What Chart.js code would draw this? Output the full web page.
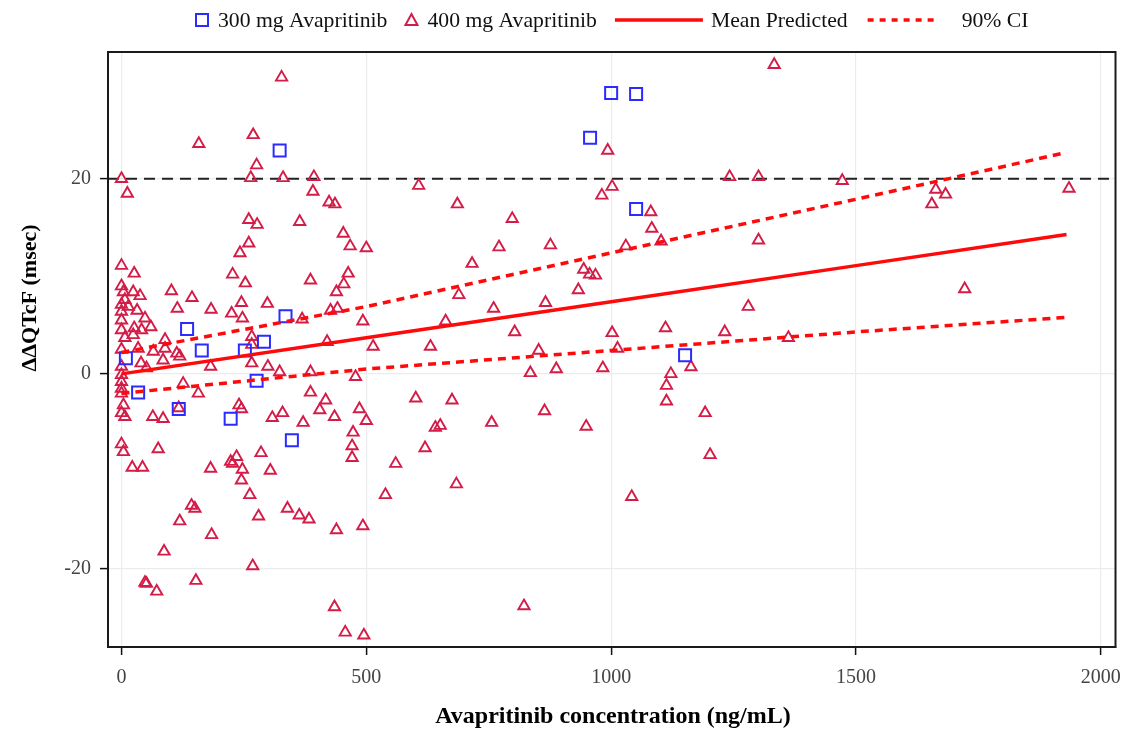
<!DOCTYPE html>
<html><head><meta charset="utf-8">
<script src="https://cdn.jsdelivr.net/npm/chart.js@4/dist/chart.umd.min.js"></script>
<style>html,body{margin:0;padding:0;background:#fff}#wrap{width:1126px;height:731px}</style>
</head><body><div id="wrap"><canvas id="c" width="1126" height="731"></canvas></div>
<script>
// ---------- data ----------
const dose300X = [323, 957, 1000, 1051, 1051, 335, 134, 291, 164, 252, 9, 276, 34, 117, 223, 348, 1151];
const dose300Y = [22.9, 24.2, 28.8, 28.7, 16.9, 5.9, 4.6, 3.3, 2.4, 2.4, 1.6, -0.7, -1.9, -3.6, -4.6, -6.8, 1.9];

const dose400X = [
 327,158,269,276,0,264,330,393,12,391,424,436,260,277,364,453,
 260,467,500,242,0,26,227,463,386,253,454,0,439,102,24,38,144,245,298,114,183,225,247,369,441,427,493,60,89,113,182,266,266,266,420,514,299,323,386,478,126,157,386,417,405,435,486,500,240,245,329,308,371,64,85,
 473,471,471,0,4,75,22,43,182,223,235,227,247,245,285,304,262,143,150,119,184,280,339,363,383,439,493,87,268,48,51,72,152,435,457,495,
 993,607,1002,981,686,1081,1083,798,1102,771,876,1030,716,944,956,968,689,933,760,866,662,803,1002,1111,
 631,1013,852,835,888,983,601,675,641,651,756,864,949,620,560,539,684,1042,822,
 1232,1362,1163,1122,1113,1113,1192,1202,
 1333,1242,1301,1472,1663,1683,1655,1935,1301,1722,1280,
 4,7,0,14,32,0,48,0,26,41,0,24,7,89,65,34,0,119,40,85,51,0,0,0,0,0,4,0,117,7
];
const dose400Y = [
 30.4,23.6,24.5,21.4,20.0,20.1,20.1,20.2,18.5,18.7,17.6,17.4,15.8,15.3,15.6,14.4,
 13.4,13.1,12.9,12.4,11.1,10.3,10.2,10.3,9.6,9.3,9.2,9.0,8.4,8.5,8.4,8.0,7.8,7.3,7.2,6.7,6.6,6.2,5.7,5.6,6.7,6.5,5.4,4.8,3.5,2.1,0.75,1.1,3.8,3.0,3.3,2.8,0.75,0.2,0.2,-0.3,-1.0,-2.0,-1.9,-2.7,-3.7,-4.4,-3.6,-4.8,-3.2,-3.6,-4.0,-4.5,-5.0,-4.4,-4.6,
 -6.0,-7.4,-8.6,-7.2,-8.0,-7.7,-9.6,-9.6,-9.7,-9.0,-8.5,-9.2,-9.8,-10.9,-8.1,-9.9,-12.4,-13.5,-13.8,-15.1,-16.5,-14.6,-13.8,-14.5,-14.9,-16.0,-15.6,-18.2,-19.7,-21.4,-21.5,-22.3,-21.2,-23.9,-26.5,-26.8,
 22.9,19.3,19.2,18.3,17.4,16.6,14.9,15.9,13.6,13.0,13.2,13.1,11.3,10.7,10.2,10.1,8.1,8.6,6.7,7.3,5.4,4.3,4.2,4.7,
 2.8,2.6,2.4,0.1,0.5,0.6,-2.5,-2.7,-5.5,-5.3,-5.0,-3.8,-5.4,-7.6,-9.2,-12.4,-11.3,-12.6,-23.8,
 4.3,3.7,0.7,0.0,-1.2,-2.8,-4.0,-8.3,
 31.7,20.2,20.2,19.8,18.9,18.4,17.4,19.0,13.7,8.7,6.9,
 8.4,7.6,7.1,6.9,6.5,6.4,5.7,5.5,4.7,4.5,4.5,4.0,3.7,2.6,2.3,2.6,2.5,1.8,1.1,1.4,0.6,0.75,-0.1,-0.8,-1.5,-2.0,-3.2,-4.0,-3.5,-4.4
];

const fitX     = [0, 500, 1000, 1500, 1930];
const meanPred = [0.0, 3.7, 7.4, 11.1, 14.3];
const ciUpper  = [2.2, 6.9, 12.4, 17.9, 22.7];
const ciLower  = [-2.0, 0.5, 2.4, 4.3, 5.8];
const refLineY = 20;

const xTicks = [0, 500, 1000, 1500, 2000];
const yTicks = [-20, 0, 20];
const xRange = [-27.5, 2030];
const yRange = [-28, 33];

const legendLabels = ['300 mg Avapritinib', '400 mg Avapritinib', 'Mean Predicted', '90% CI'];
const xTitle = 'Avapritinib concentration (ng/mL)';
const yTitle = 'ΔΔQTcF (msec)';

// ---------- styles ----------
const BLUE = '#2b2bff';
const CRIMSON = '#d41c48';
const RED = '#ff0a0a';
const SERIF = '"Liberation Serif", "Times New Roman", serif';

const pts = (xs, ys) => xs.map((x, i) => ({x, y: ys[i]}));

const frameAndLegend = {
  id: 'frameAndLegend',
  afterDraw(chart) {
    const {ctx, chartArea: a} = chart;
    ctx.save();
    ctx.strokeStyle = '#1a1a1a';
    ctx.lineWidth = 2;
    ctx.strokeRect(a.left, a.top, a.right - a.left, a.bottom - a.top);

    // axis titles
    ctx.fillStyle = '#000';
    ctx.font = 'bold 24px ' + SERIF;
    ctx.textAlign = 'center';
    ctx.textBaseline = 'middle';
    ctx.fillText(xTitle, 613, 717);
    ctx.save();
    ctx.translate(30, 298);
    ctx.rotate(-Math.PI / 2);
    ctx.font = 'bold 22px ' + SERIF;
    ctx.fillText(yTitle, 0, 0);
    ctx.restore();

    // legend
    const ly = 20;
    ctx.font = '21.7px ' + SERIF;
    ctx.textAlign = 'left';
    ctx.textBaseline = 'middle';
    ctx.fillStyle = '#111';
    let x = 196;
    // square
    ctx.strokeStyle = BLUE; ctx.lineWidth = 2;
    ctx.strokeRect(x, ly - 6, 12, 12);
    x += 22;
    ctx.fillText(legendLabels[0], x, ly + 1);
    x += ctx.measureText(legendLabels[0]).width + 18;
    // triangle
    ctx.strokeStyle = CRIMSON; ctx.lineWidth = 2;
    ctx.beginPath();
    ctx.moveTo(x + 6, ly - 6); ctx.lineTo(x + 12, ly + 5); ctx.lineTo(x, ly + 5); ctx.closePath();
    ctx.stroke();
    x += 22;
    ctx.fillText(legendLabels[1], x, ly + 1);
    x += ctx.measureText(legendLabels[1]).width + 18;
    // solid line
    ctx.strokeStyle = RED; ctx.lineWidth = 3.5;
    ctx.beginPath(); ctx.moveTo(x, ly); ctx.lineTo(x + 88, ly); ctx.stroke();
    x += 96;
    ctx.fillText(legendLabels[2], x, ly + 1);
    x += ctx.measureText(legendLabels[2]).width + 20;
    // dotted line
    ctx.setLineDash([6, 6]);
    ctx.beginPath(); ctx.moveTo(x, ly); ctx.lineTo(x + 66, ly); ctx.stroke();
    ctx.setLineDash([]);
    x += 94;
    ctx.fillText(legendLabels[3], x, ly + 1);
    ctx.restore();
  }
};

new Chart(document.getElementById('c'), {
  type: 'scatter',
  data: {
    datasets: [
      { label: legendLabels[2], type: 'line', data: pts(fitX, meanPred), borderColor: RED, borderWidth: 3.5,
        pointRadius: 0, fill: false, order: 0 },
      { label: legendLabels[3], type: 'line', data: pts(fitX, ciUpper), borderColor: RED, borderWidth: 3.5,
        borderDash: [8, 6], pointRadius: 0, fill: false, order: 0 },
      { label: legendLabels[3] + ' lower', type: 'line', data: pts(fitX, ciLower), borderColor: RED, borderWidth: 3.5,
        borderDash: [8, 6], pointRadius: 0, fill: false, order: 0 },
      { label: legendLabels[0], data: pts(dose300X, dose300Y), pointStyle: 'rect', pointRadius: 8.5,
        borderColor: BLUE, backgroundColor: 'rgba(0,0,0,0)', borderWidth: 2, order: 1 },
      { label: legendLabels[1], data: pts(dose400X, dose400Y), pointStyle: 'triangle', pointRadius: 6.5,
        borderColor: CRIMSON, backgroundColor: 'rgba(0,0,0,0)', borderWidth: 1.9, order: 2 },
      { label: 'ref', type: 'line', data: [{x: xRange[0], y: refLineY}, {x: xRange[1], y: refLineY}],
        borderColor: '#222', borderWidth: 2, borderDash: [11, 7], pointRadius: 0, fill: false, order: 3 }
    ]
  },
  options: {
    responsive: false,
    animation: false,
    events: [],
    layout: { padding: { top: 52, right: 9, left: 0, bottom: 0 } },
    plugins: { legend: { display: false }, tooltip: { enabled: false } },
    scales: {
      x: {
        type: 'linear', min: xRange[0], max: xRange[1],
        afterBuildTicks: s => { s.ticks = xTicks.map(v => ({value: v})); },
        afterFit: s => { s.height = 84; s.paddingLeft = 0; s.paddingRight = 0; },
        grid: { color: '#ececec', lineWidth: 1.2, drawTicks: true, tickLength: 8, tickColor: '#111', tickWidth: 1.5 },
        border: { display: true, color: '#1a1a1a', width: 2 },
        ticks: { color: '#444', font: { family: SERIF, size: 20 }, padding: 11, maxRotation: 0,
                 callback: v => String(v) }
      },
      y: {
        type: 'linear', min: yRange[0], max: yRange[1],
        afterBuildTicks: s => { s.ticks = yTicks.map(v => ({value: v})); },
        afterFit: s => { s.width = 108; s.paddingTop = 0; s.paddingBottom = 0; },
        grid: { color: '#ececec', lineWidth: 1.2, drawTicks: true, tickLength: 8, tickColor: '#111', tickWidth: 1.5 },
        border: { display: true, color: '#1a1a1a', width: 2 },
        ticks: { color: '#444', font: { family: SERIF, size: 20 }, padding: 9, callback: v => String(v) }
      }
    }
  },
  plugins: [frameAndLegend]
});
</script>
</body></html>
